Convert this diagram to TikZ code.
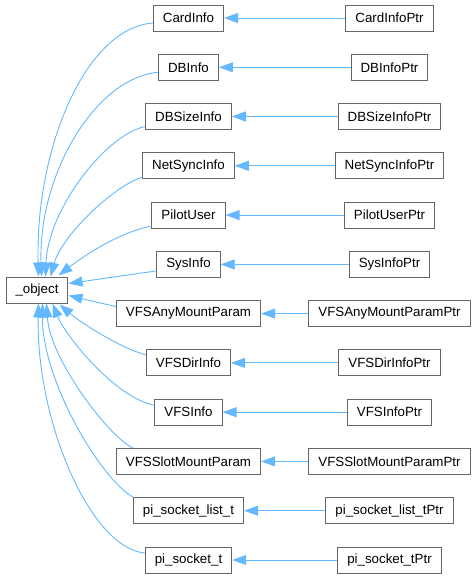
\documentclass[tikz,border=0pt]{standalone}
\usepackage{fontspec}
\setmainfont{Liberation Sans}
\usetikzlibrary{arrows.meta}
\definecolor{edgeblue}{HTML}{63B8FF}
\definecolor{boxgray}{HTML}{666666}
\begin{document}
\begin{tikzpicture}[x=1pt,y=-1pt,
  cls/.style={draw=boxgray, line width=1pt, fill=white, rectangle, inner xsep=9.5pt, inner ysep=0pt,
    minimum height=26pt, font=\fontsize{13.33}{16}\selectfont},
  edge/.style={draw=edgeblue, line width=0.9pt, -{Triangle[length=14pt,width=10pt]}}]
\useasboundingbox (0,0) rectangle (476,579);

\node[cls] (obj) at (37,290) {\_object};

\node[cls] (card) at (188.5,18) {CardInfo};
\node[cls] (db) at (188.5,67.3) {DBInfo};
\node[cls] (dbsize) at (188.5,116.5) {DBSizeInfo};
\node[cls] (netsync) at (188.5,165.8) {NetSyncInfo};
\node[cls] (pilot) at (188.5,215.1) {PilotUser};
\node[cls] (sys) at (188.5,264.4) {SysInfo};
\node[cls] (vfsany) at (188.5,313.6) {VFSAnyMountParam};
\node[cls] (vfsdir) at (188.5,362.9) {VFSDirInfo};
\node[cls] (vfsinfo) at (188.5,412.2) {VFSInfo};
\node[cls] (vfsslot) at (188.5,461.4) {VFSSlotMountParam};
\node[cls] (pilist) at (188.5,510.7) {pi\_socket\_list\_t};
\node[cls] (pisock) at (188.5,560) {pi\_socket\_t};

\node[cls] (cardp) at (389.5,18) {CardInfoPtr};
\node[cls] (dbp) at (389.5,67.3) {DBInfoPtr};
\node[cls] (dbsizep) at (389.5,116.5) {DBSizeInfoPtr};
\node[cls] (netsyncp) at (389.5,165.8) {NetSyncInfoPtr};
\node[cls] (pilotp) at (389.5,215.1) {PilotUserPtr};
\node[cls] (sysp) at (389.5,264.4) {SysInfoPtr};
\node[cls] (vfsanyp) at (389.5,313.6) {VFSAnyMountParamPtr};
\node[cls] (vfsdirp) at (389.5,362.9) {VFSDirInfoPtr};
\node[cls] (vfsinfop) at (389.5,412.2) {VFSInfoPtr};
\node[cls] (vfsslotp) at (389.5,461.4) {VFSSlotMountParamPtr};
\node[cls] (pilistp) at (389.5,510.7) {pi\_socket\_list\_tPtr};
\node[cls] (pisockp) at (389.5,560) {pi\_socket\_tPtr};

% horizontal inheritance edges
\foreach \a/\b in {cardp/card, dbp/db, dbsizep/dbsize, netsyncp/netsync, pilotp/pilot, sysp/sys,
  vfsanyp/vfsany, vfsdirp/vfsdir, vfsinfop/vfsinfo, vfsslotp/vfsslot, pilistp/pilist, pisockp/pisock}
  \draw[edge] (\a) -- (\b);

% edges into _object
\draw[edge] ([yshift=-5pt]card.west) .. controls (85,28) and (35,150) .. ([xshift=33pt]obj.north west);
\draw[edge] ([yshift=-5pt]db.west) .. controls (95,78) and (38,175) .. ([xshift=36pt]obj.north west);
\draw[edge] ([yshift=-10pt]dbsize.west) .. controls (105,135) and (48,210) .. ([xshift=40pt]obj.north west);
\draw[edge] ([yshift=-11.5pt]netsync.west) .. controls (115,185) and (62,235) .. ([xshift=45pt]obj.north west);
\draw[edge] ([yshift=-11pt]pilot.west) .. controls (120,232) and (85,255) .. ([xshift=53pt,yshift=1pt]obj.north west);
\draw[edge] ([yshift=-6.5pt]sys.west) -- ([yshift=6.5pt]obj.east);
\draw[edge] ([yshift=7pt]vfsany.west) -- ([yshift=-5.5pt]obj.east);
\draw[edge] ([yshift=8pt]vfsdir.west) .. controls (120,348) and (80,322) .. ([xshift=54pt,yshift=-1pt]obj.south west);
\draw[edge] ([yshift=7pt]vfsinfo.west) .. controls (115,398) and (65,335) .. ([xshift=47pt]obj.south west);
\draw[edge] ([xshift=17pt]vfsslot.north west) .. controls (110,438) and (50,360) .. ([xshift=41pt]obj.south west);
\draw[edge] (pilist.north west) .. controls (100,478) and (42,380) .. ([xshift=37pt]obj.south west);
\draw[edge] ([yshift=7pt]pisock.west) .. controls (90,548) and (36,420) .. ([xshift=33pt]obj.south west);
\end{tikzpicture}
\end{document}
